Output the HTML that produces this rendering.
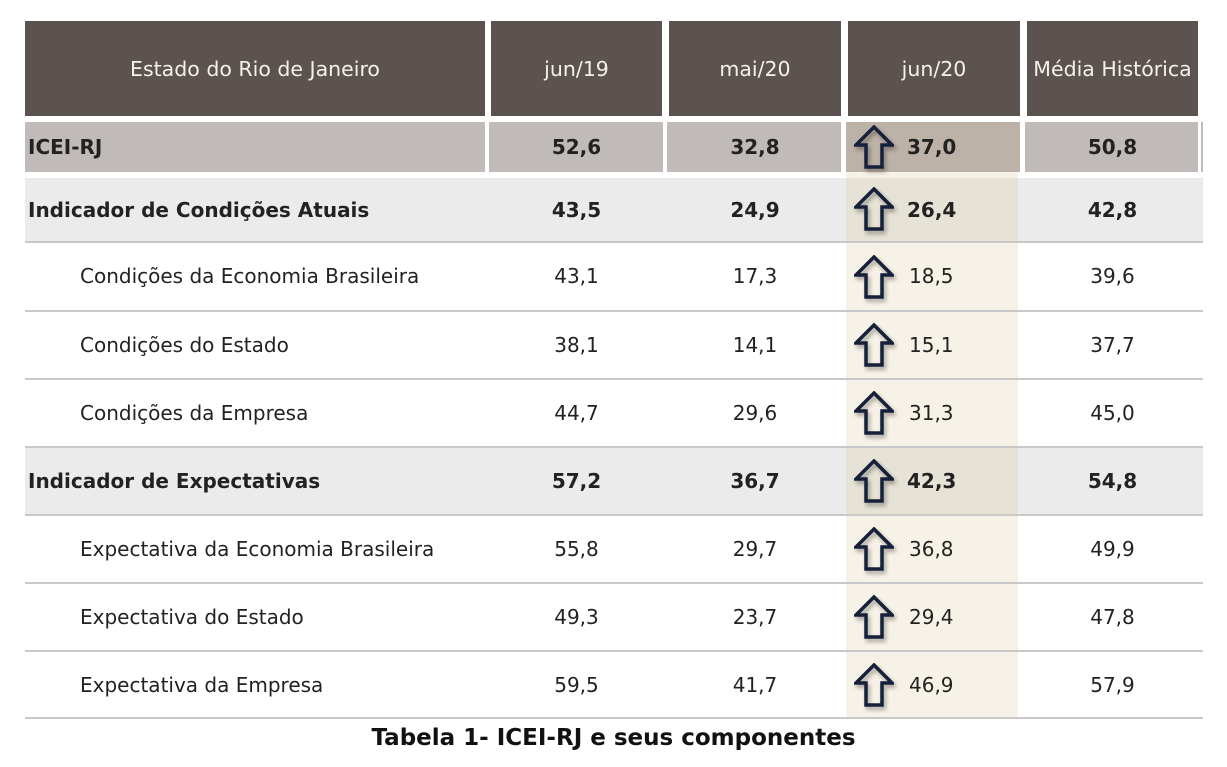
<!DOCTYPE html>
<html><head><meta charset="utf-8"><style>
body{margin:0;width:1227px;height:767px;background:#fff;position:relative;overflow:hidden;font-family:"DejaVu Sans","Liberation Sans",sans-serif;color:#222}
.a{position:absolute;box-sizing:border-box}
.h{background:#5c5351;color:#f4f0ea;font-size:20.5px;display:flex;align-items:center;justify-content:center;top:21px;height:95px}
.t{position:absolute;font-size:20px;display:flex;align-items:center;white-space:nowrap}
.b{font-weight:bold}
.c{justify-content:center}
.ln{position:absolute;left:25px;width:1178px;height:2px;background:#c8c8c8}
svg.ar{position:absolute;left:854px;width:40px;height:44px;filter:drop-shadow(2px 3px 2px rgba(0,0,0,.35))}
</style></head><body>
<div class="a h" style="left:25px;width:460px">Estado do Rio de Janeiro</div>
<div class="a h" style="left:491px;width:171px">jun/19</div>
<div class="a h" style="left:669px;width:172px">mai/20</div>
<div class="a h" style="left:848px;width:172px">jun/20</div>
<div class="a h" style="left:1027px;width:171px">Média Histórica</div>

<div class="a" style="left:25px;top:122px;width:460px;height:50px;background:#c0bbb8"></div>
<div class="a" style="left:489px;top:122px;width:174px;height:50px;background:#c0bbb8"></div>
<div class="a" style="left:667px;top:122px;width:174px;height:50px;background:#c0bbb8"></div>
<div class="a" style="left:846px;top:122px;width:174px;height:50px;background:#bdb2a7"></div>
<div class="a" style="left:1025px;top:122px;width:173px;height:50px;background:#c0bbb8"></div>
<div class="a" style="left:1201px;top:122px;width:2px;height:50px;background:#c0bbb8"></div>
<div class="a" style="left:25px;top:178px;width:1178px;height:64px;background:#ebebeb"></div>
<div class="a" style="left:25px;top:447px;width:1178px;height:68px;background:#ebebeb"></div>
<div class="a" style="left:846px;top:172px;width:172px;height:546px;background:#f7f2e7"></div>
<div class="a" style="left:846px;top:178px;width:172px;height:64px;background:#e6e2d5"></div>
<div class="a" style="left:846px;top:447px;width:172px;height:68px;background:#e6e2d5"></div>

<div class="ln" style="top:241px"></div>
<div class="ln" style="top:310px"></div>
<div class="ln" style="top:378px"></div>
<div class="ln" style="top:446px"></div>
<div class="ln" style="top:514px"></div>
<div class="ln" style="top:582px"></div>
<div class="ln" style="top:650px"></div>
<div class="ln" style="top:717px"></div>

<div class="t b" style="left:28px;top:122px;height:50px">ICEI-RJ</div>
<div class="t b" style="left:28px;top:178px;height:64px">Indicador de Condições Atuais</div>
<div class="t" style="left:80px;top:242px;height:68px">Condições da Economia Brasileira</div>
<div class="t" style="left:80px;top:311px;height:68px">Condições do Estado</div>
<div class="t" style="left:80px;top:379px;height:68px">Condições da Empresa</div>
<div class="t b" style="left:28px;top:447px;height:68px">Indicador de Expectativas</div>
<div class="t" style="left:80px;top:515px;height:68px">Expectativa da Economia Brasileira</div>
<div class="t" style="left:80px;top:583px;height:68px">Expectativa do Estado</div>
<div class="t" style="left:80px;top:651px;height:68px">Expectativa da Empresa</div>

<div class="t b c" style="left:491px;width:171px;top:122px;height:50px">52,6</div>
<div class="t b c" style="left:491px;width:171px;top:178px;height:64px">43,5</div>
<div class="t c" style="left:491px;width:171px;top:242px;height:68px">43,1</div>
<div class="t c" style="left:491px;width:171px;top:311px;height:68px">38,1</div>
<div class="t c" style="left:491px;width:171px;top:379px;height:68px">44,7</div>
<div class="t b c" style="left:491px;width:171px;top:447px;height:68px">57,2</div>
<div class="t c" style="left:491px;width:171px;top:515px;height:68px">55,8</div>
<div class="t c" style="left:491px;width:171px;top:583px;height:68px">49,3</div>
<div class="t c" style="left:491px;width:171px;top:651px;height:68px">59,5</div>

<div class="t b c" style="left:669px;width:172px;top:122px;height:50px">32,8</div>
<div class="t b c" style="left:669px;width:172px;top:178px;height:64px">24,9</div>
<div class="t c" style="left:669px;width:172px;top:242px;height:68px">17,3</div>
<div class="t c" style="left:669px;width:172px;top:311px;height:68px">14,1</div>
<div class="t c" style="left:669px;width:172px;top:379px;height:68px">29,6</div>
<div class="t b c" style="left:669px;width:172px;top:447px;height:68px">36,7</div>
<div class="t c" style="left:669px;width:172px;top:515px;height:68px">29,7</div>
<div class="t c" style="left:669px;width:172px;top:583px;height:68px">23,7</div>
<div class="t c" style="left:669px;width:172px;top:651px;height:68px">41,7</div>

<div class="t b" style="left:907px;top:122px;height:50px">37,0</div>
<div class="t b" style="left:907px;top:178px;height:64px">26,4</div>
<div class="t" style="left:909px;top:242px;height:68px">18,5</div>
<div class="t" style="left:909px;top:311px;height:68px">15,1</div>
<div class="t" style="left:909px;top:379px;height:68px">31,3</div>
<div class="t b" style="left:907px;top:447px;height:68px">42,3</div>
<div class="t" style="left:909px;top:515px;height:68px">36,8</div>
<div class="t" style="left:909px;top:583px;height:68px">29,4</div>
<div class="t" style="left:909px;top:651px;height:68px">46,9</div>

<div class="t b c" style="left:1027px;width:171px;top:122px;height:50px">50,8</div>
<div class="t b c" style="left:1027px;width:171px;top:178px;height:64px">42,8</div>
<div class="t c" style="left:1027px;width:171px;top:242px;height:68px">39,6</div>
<div class="t c" style="left:1027px;width:171px;top:311px;height:68px">37,7</div>
<div class="t c" style="left:1027px;width:171px;top:379px;height:68px">45,0</div>
<div class="t b c" style="left:1027px;width:171px;top:447px;height:68px">54,8</div>
<div class="t c" style="left:1027px;width:171px;top:515px;height:68px">49,9</div>
<div class="t c" style="left:1027px;width:171px;top:583px;height:68px">47,8</div>
<div class="t c" style="left:1027px;width:171px;top:651px;height:68px">57,9</div>

<svg class="ar" style="top:125px" viewBox="0 0 40 44"><path d="M20 2 L38 20 L28 20 L28 42 L12 42 L12 20 L2 20 Z" fill="none" stroke="#15203a" stroke-width="3.5"/></svg>
<svg class="ar" style="top:187px" viewBox="0 0 40 44"><path d="M20 2 L38 20 L28 20 L28 42 L12 42 L12 20 L2 20 Z" fill="none" stroke="#15203a" stroke-width="3.5"/></svg>
<svg class="ar" style="top:255px" viewBox="0 0 40 44"><path d="M20 2 L38 20 L28 20 L28 42 L12 42 L12 20 L2 20 Z" fill="none" stroke="#15203a" stroke-width="3.5"/></svg>
<svg class="ar" style="top:323px" viewBox="0 0 40 44"><path d="M20 2 L38 20 L28 20 L28 42 L12 42 L12 20 L2 20 Z" fill="none" stroke="#15203a" stroke-width="3.5"/></svg>
<svg class="ar" style="top:391px" viewBox="0 0 40 44"><path d="M20 2 L38 20 L28 20 L28 42 L12 42 L12 20 L2 20 Z" fill="none" stroke="#15203a" stroke-width="3.5"/></svg>
<svg class="ar" style="top:459px" viewBox="0 0 40 44"><path d="M20 2 L38 20 L28 20 L28 42 L12 42 L12 20 L2 20 Z" fill="none" stroke="#15203a" stroke-width="3.5"/></svg>
<svg class="ar" style="top:527px" viewBox="0 0 40 44"><path d="M20 2 L38 20 L28 20 L28 42 L12 42 L12 20 L2 20 Z" fill="none" stroke="#15203a" stroke-width="3.5"/></svg>
<svg class="ar" style="top:595px" viewBox="0 0 40 44"><path d="M20 2 L38 20 L28 20 L28 42 L12 42 L12 20 L2 20 Z" fill="none" stroke="#15203a" stroke-width="3.5"/></svg>
<svg class="ar" style="top:663px" viewBox="0 0 40 44"><path d="M20 2 L38 20 L28 20 L28 42 L12 42 L12 20 L2 20 Z" fill="none" stroke="#15203a" stroke-width="3.5"/></svg>

<div class="t b c" style="left:0;width:1227px;top:722px;height:32px;font-size:23px;color:#111">Tabela 1- ICEI-RJ e seus componentes</div>
</body></html>
